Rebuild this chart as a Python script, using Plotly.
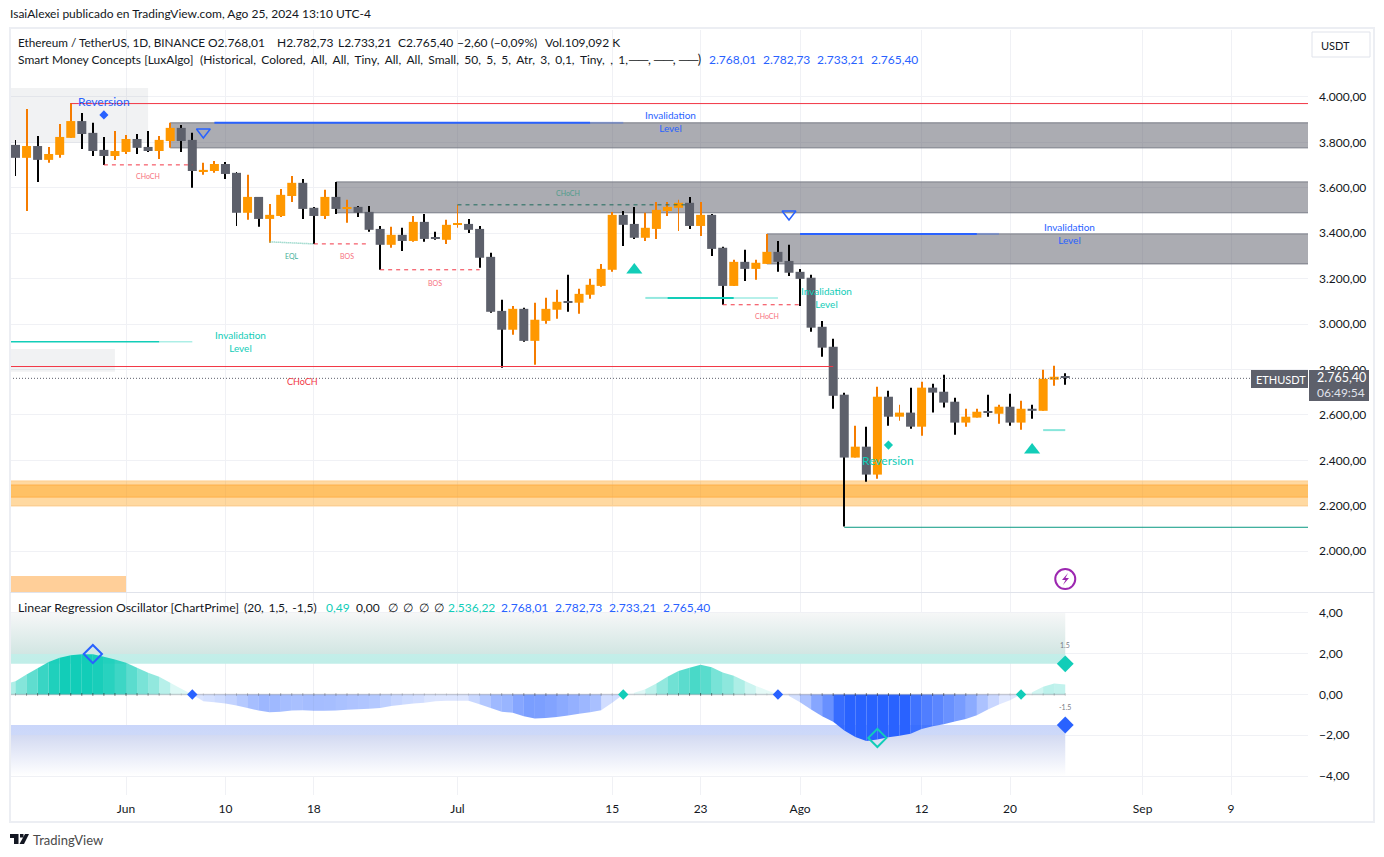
import pandas as pd
import plotly.graph_objects as go

W, H = 1384, 857
FONT = "Lato"

first_day = "2024-05-22"
n_days = 96
dates = [d.strftime("%Y-%m-%d") for d in pd.date_range(first_day, periods=n_days)]
x_start = "2024-05-21 12:03"
x_end = "2024-09-15 23:15"

opens = [3789,3732,3784,3723,3745,3820,3894,3842,3767,3740,3758,3815,3780,3762,3806,3864,3811,3674,3674,3705,
         3666,3490,3560,3463,3476,3564,3622,3512,3476,3560,3507,3516,3494,3419,3349,3393,3366,3450,3380,3371,
         3437,3441,3419,3296,3058,2975,3067,2926,3014,3063,3098,3094,3129,3168,3239,3481,3441,3380,3419,3498,
         3512,3534,3432,3481,3336,3168,3274,3243,3265,3318,3278,3230,3204,2988,2900,2689,2412,2460,2337,2680,
         2592,2610,2548,2720,2702,2658,2566,2588,2614,2605,2636,2566,2627,2618,2755,2768]
highs = [3811,3947,3828,3780,3881,3974,3930,3886,3824,3850,3833,3837,3850,3828,3886,3877,3842,3710,3718,3714,
         3670,3657,3560,3529,3595,3652,3639,3516,3591,3626,3547,3520,3520,3432,3428,3424,3476,3485,3406,3459,
         3525,3463,3432,3314,3107,3080,3072,3094,3116,3151,3217,3155,3199,3265,3494,3498,3516,3490,3538,3538,
         3547,3560,3538,3485,3340,3283,3327,3283,3397,3366,3349,3243,3217,3014,2935,2698,2552,2548,2724,2706,
         2645,2720,2746,2737,2777,2676,2627,2627,2689,2645,2693,2662,2645,2799,2816,2783]
lows = [3652,3498,3626,3710,3732,3820,3771,3740,3701,3723,3749,3749,3758,3727,3776,3758,3600,3657,3666,3639,
        3432,3459,3428,3358,3472,3538,3463,3353,3463,3485,3446,3472,3406,3239,3336,3322,3362,3362,3371,3353,
        3424,3401,3248,3050,2808,2953,2922,2821,3001,3023,3054,3045,3111,3164,3230,3344,3375,3366,3375,3476,
        3410,3419,3388,3300,3085,3168,3190,3195,3265,3230,3212,3080,2966,2856,2627,2108,2412,2306,2319,2552,
        2574,2539,2508,2610,2632,2513,2548,2588,2592,2561,2552,2535,2583,2618,2728,2733]
closes = [3732,3784,3723,3749,3824,3894,3837,3762,3740,3762,3815,3776,3762,3811,3864,3806,3674,3679,3705,3661,
          3490,3560,3463,3481,3569,3622,3507,3476,3560,3507,3512,3490,3415,3349,3393,3366,3450,3375,3375,3437,
          3441,3415,3292,3054,2975,3067,2926,3019,3067,3098,3094,3133,3173,3243,3481,3437,3380,3424,3503,3516,
          3534,3432,3481,3331,3168,3274,3243,3270,3318,3274,3226,3199,2984,2896,2684,2412,2460,2337,2680,2592,
          2610,2548,2720,2698,2654,2566,2592,2614,2610,2636,2566,2627,2618,2759,2768,2765]

osc_left = 0.57
osc = [0.65,0.98,1.28,1.59,1.80,1.92,1.97,1.97,1.85,1.72,1.56,1.31,1.07,0.87,0.57,0.28,0.0,-0.33,-0.38,-0.44,
       -0.54,-0.66,-0.79,-0.87,-0.85,-0.79,-0.77,-0.80,-0.80,-0.79,-0.75,-0.72,-0.70,-0.67,-0.57,-0.50,-0.44,-0.41,-0.33,-0.31,
       -0.31,-0.31,-0.48,-0.67,-0.85,-0.90,-1.07,-1.18,-1.16,-1.11,-1.03,-0.95,-0.87,-0.77,-0.41,0.0,0.08,0.25,0.54,0.87,
       1.15,1.31,1.46,1.33,1.08,0.92,0.66,0.41,0.21,0.0,-0.08,-0.38,-0.74,-1.07,-1.34,-1.77,-2.08,-2.28,-2.21,-2.10,
       -2.02,-1.93,-1.69,-1.56,-1.46,-1.33,-1.20,-1.02,-0.74,-0.49,-0.28,0.0,0.11,0.38,0.54,0.49]

price_ticks = [4000,3800,3600,3400,3200,3000,2800,2600,2400,2200,2000]
price_labels = ["4.000,00","3.800,00","3.600,00","3.400,00","3.200,00","3.000,00","2.800,00","2.600,00","2.400,00","2.200,00","2.000,00"]
osc_ticks = [4,2,0,-2,-4]
osc_labels = ["4,00","2,00","0,00","−2,00","−4,00"]
time_ticks = ["2024-06-01","2024-06-10","2024-06-18","2024-07-01","2024-07-15","2024-07-23","2024-08-01","2024-08-12","2024-08-20","2024-09-01","2024-09-09"]
time_labels = ["Jun","10","18","Jul","15","23","Ago","12","20","Sep","9"]

price_range = [1820, 4295]
osc_range = [-4.93, 4.975]

UP, DOWN = "#ff9800", "#5d606b"
UP_WICK, DOWN_WICK = "#f57c00", "#000000"
TEAL, BLUE, RED, GREEN = "#12cdb8", "#2962ff", "#f23645", "#089981"
GRID = "#f0f1f5"
INK = "#131722"

DAY_MS = 86400000
PX_MS = DAY_MS / 11.05

def px(x):
    return x / W

def py(y):
    return 1 - y / H

fig = go.Figure()

# candles
up = [c >= o for o, c in zip(opens, closes)]
fig.add_bar(x=dates, base=lows, y=[h - l for h, l in zip(highs, lows)], width=PX_MS,
            marker=dict(color=[UP_WICK if u else DOWN_WICK for u in up], line_width=0), hoverinfo="skip")
fig.add_bar(x=dates, base=[min(o, c) for o, c in zip(opens, closes)],
            y=[max(abs(c - o), 5) for o, c in zip(opens, closes)], width=9 * PX_MS,
            marker=dict(color=[UP if u else DOWN for u in up], line_width=0), hoverinfo="skip")

def line(x0, x1, y0, y1=None, color=RED, width=1, dash="solid", yaxis="y"):
    fig.add_scatter(x=[x0, x1], y=[y0, y0 if y1 is None else y1], mode="lines", yaxis=yaxis,
                    xaxis="x" if yaxis == "y" else "x2",
                    line=dict(color=color, width=width, dash=dash), hoverinfo="skip")

# structure lines
line(dates[5], x_end, 3971, color=RED)
line(dates[75], x_end, 2105, color=GREEN)
line(x_start, dates[74], 2813, color=RED)
line(x_start, x_end, 2761, color=DOWN, dash="1px,2px")
line(dates[8], dates[16], 3701, color=RED, dash="4px,4px")
line(dates[23], dates[27], 3362, 3353, color="#6fc7b4", dash="1px,1px", width=1.5)
line(dates[27], dates[32], 3353, color=RED, dash="4px,4px")
line(dates[33], dates[42], 3239, color=RED, dash="4px,4px")
line(dates[40], dates[61], 3525, color="#1e6b5c", dash="4px,4px")
line(dates[64], dates[71], 3085, color=RED, dash="4px,4px")

# invalidation levels
line(dates[18], dates[52], 3886, color=BLUE, width=2)
line(dates[52], dates[55], 3886, color="rgba(41,98,255,0.3)", width=2)
line(dates[71], dates[87], 3397, color=BLUE, width=2)
line(dates[87], dates[89], 3397, color="rgba(41,98,255,0.3)", width=2)
line(x_start, dates[13], 2922, color=TEAL, width=1.5)
line(dates[13], dates[16], 2922, color="rgba(18,205,184,0.35)", width=1.5)
line(dates[57], dates[59], 3115, color="rgba(18,205,184,0.45)", width=2)
line(dates[59], dates[65], 3115, color=TEAL, width=2)
line(dates[65], dates[69], 3115, color="rgba(18,205,184,0.3)", width=2)
line(dates[93], dates[95], 2533, color="rgba(18,205,184,0.5)", width=2)

def markers(idx, ys, symbol, size, color, yaxis="y", lw=0):
    fig.add_scatter(x=[dates[i] for i in idx], y=ys, mode="markers", yaxis=yaxis,
                    xaxis="x" if yaxis == "y" else "x2",
                    marker=dict(symbol=symbol, size=size, color=color, line=dict(color=color, width=lw)),
                    hoverinfo="skip")

markers([17, 70], [3846, 3485], "triangle-down-open", 12, BLUE, lw=1.5)
markers([56, 92], [3238, 2445], "triangle-up", 14, TEAL)
markers([8], [3921], "diamond", 7, BLUE)
markers([79], [2467], "diamond", 7, TEAL)
markers([95], [1877], "circle-open", 20, "#9c27b0", lw=2)

# oscillator gradient zones
fig.add_scatter(x=[x_start, dates[95], dates[95], x_start, x_start], y=[1.5, 1.5, 4.0, 4.0, 1.5],
                mode="lines", line_width=0, fill="toself", yaxis="y2", xaxis="x2", hoverinfo="skip",
                fillgradient=dict(type="vertical", colorscale=[[0, "#c0eee8"], [0.2, "#c3eee9"], [0.2, "#d2e6e3"], [1, "#f6f7f7"]]))
fig.add_scatter(x=[x_start, dates[95], dates[95], x_start, x_start], y=[-1.5, -1.5, -4.0, -4.0, -1.5],
                mode="lines", line_width=0, fill="toself", yaxis="y2", xaxis="x2", hoverinfo="skip",
                fillgradient=dict(type="vertical", colorscale=[[0, "#ffffff"], [0.8, "#d3daf2"], [0.8, "#cdd9f9"], [1, "#cad6fa"]]))

# oscillator bands
osc_x = [x_start] + dates
osc_y = [osc_left] + osc
for i in range(len(osc_x) - 1):
    v = osc_y[i + 1] if osc_y[i + 1] != 0 else osc_y[i]
    alpha = min(1, abs(v) / 1.9) if v != 0 else 0.05
    rgb = "18,205,184" if v > 0 else "41,98,255"
    fig.add_scatter(x=[osc_x[i], osc_x[i + 1]], y=[osc_y[i], osc_y[i + 1]], mode="lines", yaxis="y2", xaxis="x2",
                    line=dict(width=0), fill="tozeroy", fillcolor=f"rgba({rgb},{alpha:.3f})", hoverinfo="skip")

fig.add_scatter(x=[x_start, dates[95]], y=[0, 0], mode="lines", yaxis="y2", xaxis="x2",
                line=dict(color="rgba(120,123,134,0.3)", width=1.5), hoverinfo="skip")
fig.add_scatter(x=dates, y=[0] * len(dates), mode="markers", yaxis="y2", xaxis="x2", hoverinfo="skip",
                marker=dict(symbol="line-ns", size=2,
                            line=dict(width=1, color=[f"rgba(0,0,0,{min(0.5, abs(v) / 3):.2f})" for v in osc])))

markers([7], [1.98], "diamond-open", 14, BLUE, yaxis="y2", lw=2)
markers([78], [-2.13], "diamond-open", 14, TEAL, yaxis="y2", lw=2)
markers([16, 69], [0, 0], "diamond", 8, BLUE, yaxis="y2")
markers([55, 91], [0, 0], "diamond", 8, TEAL, yaxis="y2")
markers([95], [1.5], "diamond", 13, TEAL, yaxis="y2")
markers([95], [-1.5], "diamond", 13, BLUE, yaxis="y2")

def zone(x0, y0, y1, fill, edge=None):
    fig.add_shape(type="rect", xref="x", yref="y", x0=x0, x1=x_end, y0=y0, y1=y1, layer="between",
                  fillcolor=fill, line=dict(width=0))
    if edge:
        for yv in (y0, y1):
            fig.add_shape(type="line", xref="x", yref="y", x0=x0, x1=x_end, y0=yv, y1=yv, layer="between",
                          line=dict(color=edge, width=1))

GREY_ZONE = "rgba(93,96,107,0.52)"
zone(dates[14], 3776, 3886, GREY_ZONE, "#787b86")
zone(dates[29], 3490, 3626, GREY_ZONE, "#787b86")
zone(dates[68], 3265, 3397, GREY_ZONE, "#787b86")
zone(x_start, 2199, 2309, "rgba(255,152,0,0.37)", "#ffcf8f")
zone(x_start, 2238, 2291, "rgba(255,152,0,0.37)", "#ffb04a")

def box(x1, y0, y1, fill):
    fig.add_shape(type="rect", xref="x", yref="y", x0=x_start, x1=x1, y0=y0, y1=y1, layer="between",
                  fillcolor=fill, line=dict(width=0))

box("2024-06-03", 3797, 4040, "rgba(120,123,134,0.1)")
box("2024-05-31", 2790, 2890, "rgba(120,123,134,0.1)")
box("2024-06-01", 1820, 1890, "#ffcf99")

def note(xv, yv, text, color, size, yref="y"):
    fig.add_annotation(x=xv, y=yv, text=text, xref="x" if yref == "y" else "x2", yref=yref, showarrow=False,
                       font=dict(family=FONT, size=size, color=color), align="center")

note(dates[8], 3978, "Reversion", BLUE, 12)
note(dates[79], 2400, "Reversion", TEAL, 12)
note("2024-07-20 07:00", 3890, "Invalidation<br>Level", BLUE, 10)
note("2024-08-25 10:00", 3397, "Invalidation<br>Level", BLUE, 10)
note("2024-08-03 10:00", 3115, "Invalidation<br>Level", TEAL, 10)
note("2024-06-11 08:00", 2922, "Invalidation<br>Level", TEAL, 10)
PINK = "#f7707c"
note(dates[12], 3652, "CHoCH", PINK, 7)
note(dates[25], 3300, "EQL", "#3dae98", 7)
note(dates[30], 3300, "BOS", PINK, 7)
note(dates[38], 3181, "BOS", PINK, 7)
note(dates[50], 3577, "CHoCH", "#4f9c8c", 7)
note(dates[68], 3035, "CHoCH", PINK, 7)
note(dates[26], 2749, "CHoCH", RED, 9)
note(dates[95], 2.43, "1.5", "#787b86", 7, yref="y2")
note(dates[95], -0.6, "-1.5", "#787b86", 7, yref="y2")

def chrome(x, y, text, color=INK, size=12, anchor="left"):
    fig.add_annotation(x=px(x - 2 if anchor == "left" else x), y=py(y), text=text, xref="paper", yref="paper", showarrow=False,
                       xanchor=anchor, yanchor="middle", font=dict(family=FONT, size=size, color=color))

def pane_rect(x0, y0, x1, y1, fill="rgba(0,0,0,0)", edge=None, width=1):
    fig.add_shape(type="rect", xref="paper", yref="paper", x0=px(x0), x1=px(x1), y0=py(y0), y1=py(y1),
                  fillcolor=fill, line=dict(color=edge, width=width) if edge else dict(width=0), layer="above")

pane_rect(10, 28, 1374, 822, edge="#eceef3", width=2)
fig.add_shape(type="line", xref="paper", yref="paper", x0=px(10), x1=px(1374), y0=py(592.5), y1=py(592.5),
              line=dict(color="#e0e3eb", width=1), layer="above")
pane_rect(1312, 32, 1370, 57, fill="#ffffff", edge="#e0e3eb")
pane_rect(1251, 370, 1308, 388, fill=DOWN)
pane_rect(1309, 370, 1369, 401, fill=DOWN)

HS3 = " \u200a\u200a\u200a"
HS2 = " \u200a\u200a"
chrome(10, 14, "IsaiAlexei publicado en TradingView.com, Ago 25, 2024 13:10 UTC-4", size=12)
chrome(18, 42, "Ethereum / TetherUS, 1D, BINANCE", size=11.75)
header_x = [208, 277, 338, 398, 457, 545]
header_t = ["O2.768,01", "H2.782,73", "L2.733,21", "C2.765,40", "−2,60 (−0,09%)", "Vol.109,092 K"]
for xp, t in zip(header_x, header_t):
    chrome(xp, 42, t)
chrome(18, 59, "Smart Money Concepts [LuxAlgo]")
chrome(200, 59, "(Historical, Colored, All, All, Tiny, All, All, Small, 50, 5, 5, Atr, 3, 0,1, Tiny, , 1,".replace(" ", HS3))
chrome(628, 59, "──, ──, ──)", size=12.6)
for xp, t in zip([709, 763, 817, 871], ["2.768,01", "2.782,73", "2.733,21", "2.765,40"]):
    chrome(xp, 59, t, BLUE)
chrome(18, 607, "Linear Regression Oscillator [ChartPrime]", size=12.35)
chrome(244, 607, "(20, 1,5, -1,5)".replace(" ", HS2))
chrome(326, 607, "0,49", TEAL)
chrome(356, 607, "0,00")
for xp in [388, 403, 419, 434]:
    chrome(xp, 607, "∅")
chrome(448, 607, "2.536,22", TEAL)
for xp, t in zip([501, 555, 609, 663], ["2.768,01", "2.782,73", "2.733,21", "2.765,40"]):
    chrome(xp, 607, t, BLUE)
chrome(1335, 45, "USDT", size=11, anchor="center")
chrome(1256, 379, "ETHUSDT", "#ffffff", 11)
chrome(1317, 378, "2.765,40", "#ffffff", 12.5)
chrome(1317, 392, "06:49:54", "#e0e3eb", 12)
chrome(33, 840, "TradingView", "#4a4a4a", 13)

def path(points):
    return "M " + " L ".join(f"{px(a):.5f},{py(b):.5f}" for a, b in points) + " Z"

for poly, col in [
    ([(1068, 573), (1062, 580), (1065.5, 580), (1063, 585), (1069, 578), (1065.5, 578)], "#9c27b0"),
    ([(10, 834), (18.5, 834), (18.5, 844), (14, 844), (14, 838), (10, 838)], "#131722"),
    ([(25, 834), (29, 834), (24, 844), (19.5, 844)], "#131722"),
    ([(20, 834), (23.5, 834), (23.5, 837.5), (20, 837.5)], "#131722"),
]:
    fig.add_shape(type="path", xref="paper", yref="paper", path=path(poly), fillcolor=col, line_width=0, layer="above")

x_common = dict(type="date", range=[x_start, x_end], domain=[px(10), px(1308)], tickmode="array", tickvals=time_ticks,
                gridcolor=GRID, gridwidth=1, showline=False, zeroline=False, fixedrange=True)
y_common = dict(side="right", gridcolor=GRID, gridwidth=1, showline=False, zeroline=False, fixedrange=True,
                tickmode="array", ticklen=0, ticklabelstandoff=10, tickfont=dict(family=FONT, size=12, color=INK))

fig.update_layout(
    width=W, height=H, margin=dict(l=0, r=0, t=0, b=0), paper_bgcolor="#ffffff", plot_bgcolor="#ffffff",
    showlegend=False, barmode="overlay", font=dict(family=FONT),
    xaxis=dict(**x_common, anchor="y", showticklabels=False, ticktext=time_labels),
    xaxis2=dict(**x_common, anchor="y2", ticktext=time_labels, ticklen=0, ticklabelstandoff=5,
                tickfont=dict(family=FONT, size=12, color=INK)),
    yaxis=dict(**y_common, anchor="x", domain=[py(592), py(30)], range=price_range, tickvals=price_ticks, ticktext=price_labels),
    yaxis2=dict(**y_common, anchor="x2", domain=[py(795), py(593)], range=osc_range, tickvals=osc_ticks, ticktext=osc_labels),
)

fig.write_html("out.html", config=dict(displayModeBar=False),
               post_script="document.body.style.margin='0';")
